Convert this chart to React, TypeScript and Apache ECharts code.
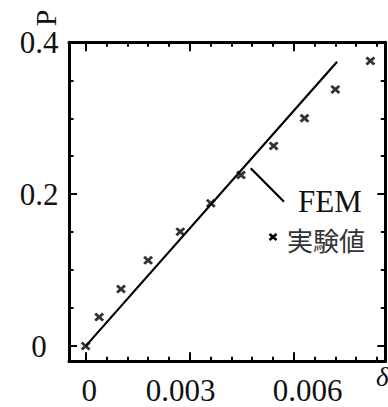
import React, { useEffect, useRef } from "react";
import * as echarts from "echarts";

// Experimental values (実験値): δ vs P
const expDelta = [0.0, 0.00039, 0.00102, 0.0018, 0.00273, 0.00361, 0.00448, 0.00542, 0.00631, 0.0072, 0.00821];
const expP = [0.0, 0.0382, 0.0751, 0.113, 0.1506, 0.188, 0.2253, 0.2635, 0.3, 0.338, 0.3755];

// FEM result (straight line)
const femDelta = [0.0, 0.00725];
const femP = [0.0, 0.3745];

// Axis ticks
const xMajor = [0, 0.003, 0.006];
const xMinor = [0.0006, 0.0012, 0.0018, 0.0024, 0.0036, 0.0042, 0.0048, 0.0054, 0.0066, 0.0072, 0.0078, 0.0084];
const yMajor = [0, 0.2, 0.4];
const yMinor = [0.05, 0.1, 0.15, 0.25, 0.3, 0.35];
const xTickLabels = ["0", "0.003", "0.006"];
const yTickLabels = ["0", "0.2", "0.4"];

const SERIF = "'Liberation Serif', 'DejaVu Serif', serif";
const INK = "#111";

export default function App() {
  const ref = useRef<HTMLDivElement>(null);

  useEffect(() => {
    if (!ref.current) return;
    const chart = echarts.init(ref.current, undefined, { renderer: "svg" });

    const lineStyle = { color: "#000", width: 3 };
    const labelFont = { fontFamily: SERIF, fontSize: 31, color: INK, lineHeight: 31 };

    const xLabelFor = (v: number) => {
      const i = xMajor.findIndex((m) => Math.abs(m - v) < 1e-9);
      if (i < 0) return "";
      return `{k${i}|${xTickLabels[i]}}`;
    };
    const yLabelFor = (v: number) => {
      const i = yMajor.findIndex((m) => Math.abs(m - v) < 1e-9);
      return i < 0 ? "" : yTickLabels[i];
    };

    const baseX = {
      type: "value" as const,
      min: -0.00048,
      max: 0.00864,
      splitLine: { show: false },
      gridIndex: 0,
    };
    const baseY = {
      type: "value" as const,
      min: -0.02,
      max: 0.4,
      splitLine: { show: false },
      gridIndex: 0,
    };

    const xPath = "path://M0 2.1L2.1 0L5 2.9L7.9 0L10 2.1L7.1 5L10 7.9L7.9 10L5 7.1L2.1 10L0 7.9L2.9 5Z";

    chart.setOption({
      animation: false,
      grid: { left: 69, right: 2.7, top: 42.3, bottom: 45.7, containLabel: false },
      xAxis: [
        {
          ...baseX,
          position: "bottom",
          axisLine: { show: true, onZero: false, lineStyle },
          axisTick: { show: true, inside: true, length: 9, customValues: xMajor, lineStyle: { color: "#000", width: 2 } },
          axisLabel: {
            show: true,
            customValues: xMajor,
            margin: 14,
            formatter: xLabelFor,
            ...labelFont,
            rich: {
              k0: { ...labelFont, padding: [0, 0, 0, 7] },
              k1: { ...labelFont, padding: [0, 18, 0, 0] },
              k2: { ...labelFont, padding: [0, 0, 0, 28] },
            },
          },
        },
        {
          ...baseX,
          position: "bottom",
          axisLine: { show: false, onZero: false },
          axisTick: { show: true, inside: true, length: 4.5, customValues: xMinor, lineStyle: { color: "#000", width: 2 } },
          axisLabel: { show: false },
        },
        {
          ...baseX,
          position: "top",
          axisLine: { show: true, onZero: false, lineStyle },
          axisTick: { show: true, inside: true, length: 9, customValues: xMajor, lineStyle: { color: "#000", width: 2 } },
          axisLabel: { show: false },
        },
        {
          ...baseX,
          position: "top",
          axisLine: { show: false, onZero: false },
          axisTick: { show: true, inside: true, length: 4.5, customValues: xMinor, lineStyle: { color: "#000", width: 2 } },
          axisLabel: { show: false },
        },
      ],
      yAxis: [
        {
          ...baseY,
          position: "left",
          axisLine: { show: true, onZero: false, lineStyle },
          axisTick: { show: true, inside: true, length: 8, customValues: yMajor, lineStyle: { color: "#000", width: 2 } },
          axisLabel: {
            show: true,
            customValues: yMajor,
            margin: 30,
            align: "center",
            formatter: yLabelFor,
            ...labelFont,
          },
        },
        {
          ...baseY,
          position: "left",
          axisLine: { show: false, onZero: false },
          axisTick: { show: true, inside: true, length: 4.5, customValues: yMinor, lineStyle: { color: "#000", width: 2 } },
          axisLabel: { show: false },
        },
        {
          ...baseY,
          position: "right",
          axisLine: { show: true, onZero: false, lineStyle },
          axisTick: { show: true, inside: true, length: 8, customValues: yMajor, lineStyle: { color: "#000", width: 2 } },
          axisLabel: { show: false },
        },
        {
          ...baseY,
          position: "right",
          axisLine: { show: false, onZero: false },
          axisTick: { show: true, inside: true, length: 4.5, customValues: yMinor, lineStyle: { color: "#000", width: 2 } },
          axisLabel: { show: false },
        },
      ],
      series: [
        {
          name: "FEM",
          type: "line",
          xAxisIndex: 0,
          yAxisIndex: 0,
          showSymbol: false,
          lineStyle: { color: "#000", width: 2.2 },
          data: femDelta.map((d, i) => [d, femP[i]]),
          z: 3,
        },
        {
          name: "実験値",
          type: "scatter",
          xAxisIndex: 0,
          yAxisIndex: 0,
          symbol: xPath,
          symbolSize: [10, 9],
          itemStyle: { color: "#000" },
          data: expDelta.map((d, i) => [d, expP[i]]),
          z: 4,
        },
      ],
      graphic: [
        {
          type: "text",
          x: 45,
          y: 18,
          rotation: Math.PI / 2,
          style: { text: "P", font: `30px ${SERIF}`, fill: INK, align: "center", verticalAlign: "middle" },
        },
        {
          type: "text",
          x: 376,
          y: 377,
          style: { text: "δ", font: `italic 27px ${SERIF}`, fill: INK, align: "left", verticalAlign: "middle" },
        },
        {
          type: "line",
          shape: { x1: 250.7, y1: 168.3, x2: 284, y2: 201.7 },
          style: { stroke: "#000", lineWidth: 2.2 },
        },
        {
          type: "text",
          x: 298,
          y: 201.5,
          style: { text: "FEM", font: `31px ${SERIF}`, lineHeight: 26, fill: INK, align: "left", verticalAlign: "middle" },
        },
        {
          type: "line",
          shape: { x1: 269.5, y1: 234, x2: 276.5, y2: 240 },
          style: { stroke: "#000", lineWidth: 2.6 },
        },
        {
          type: "line",
          shape: { x1: 276.5, y1: 234, x2: 269.5, y2: 240 },
          style: { stroke: "#000", lineWidth: 2.6 },
        },
        {
          type: "text",
          x: 287,
          y: 239,
          style: { text: "実験値", font: `26px 'Noto Sans CJK JP', sans-serif`, lineHeight: 26, fill: "#333", align: "left", verticalAlign: "middle" },
        },
      ],
    });

    return () => chart.dispose();
  }, []);

  return (
    <div
      ref={ref}
      style={{ position: "fixed", left: 0, top: 0, width: 388, height: 407, background: "#fff" }}
    />
  );
}
